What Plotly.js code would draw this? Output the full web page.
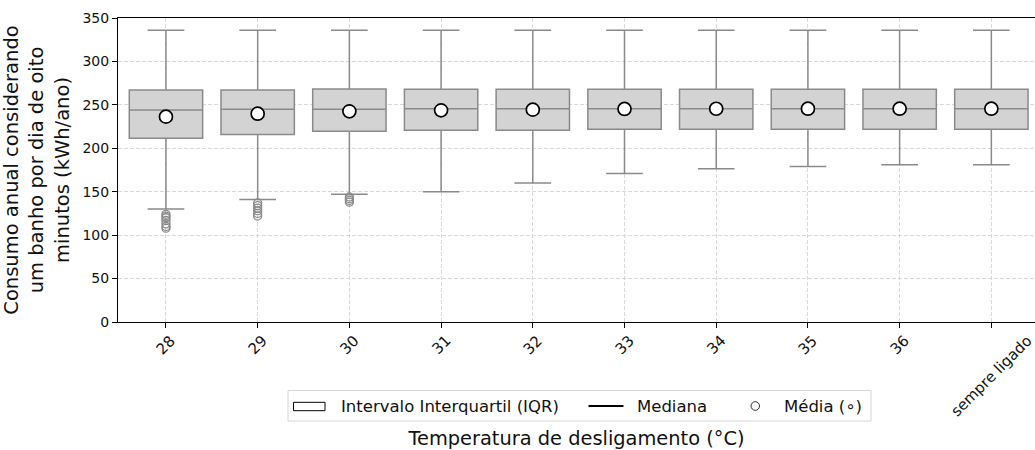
<!DOCTYPE html>
<html>
<head>
<meta charset="utf-8">
<script src="https://cdn.plot.ly/plotly-3.0.1.min.js"></script>
<style>html,body{margin:0;padding:0;background:#fff;}#chart{width:1035px;height:450px;}</style>
</head>
<body>
<div id="chart"></div>
<script>
// ---- data ----
const categories = ["28", "29", "30", "31", "32", "33", "34", "35", "36", "sempre ligado"];
const q1Values     = [211.5, 216.0, 219.5, 220.7, 220.7, 221.8, 221.8, 221.8, 221.8, 221.8];
const medianValues = [244.0, 244.8, 244.8, 245.6, 245.6, 245.6, 245.6, 245.6, 245.6, 245.6];
const q3Values     = [267.0, 267.0, 268.2, 268.0, 268.0, 268.0, 268.0, 268.0, 268.0, 268.0];
const lowerWhisker = [130.0, 141.0, 147.0, 150.0, 160.0, 171.0, 176.5, 179.0, 181.0, 181.0];
const upperWhisker = [336.0, 336.0, 336.0, 336.0, 336.0, 336.0, 336.0, 336.0, 336.0, 336.0];
const meanValues   = [236.4, 239.8, 242.5, 243.7, 244.5, 245.3, 245.5, 245.6, 245.6, 245.6];
const outlierCategories = ["28","28","28","28","28","28","28","29","29","29","29","29","29","30","30","30","30"];
const outlierValues     = [124, 122, 120, 117, 113, 110, 108, 137, 134, 131, 128, 125, 122, 144, 142, 140, 138];
const legendLabels = ["Intervalo Interquartil (IQR)", "Mediana", "Média (\u2218)"];
const xTitle = "Temperatura de desligamento (°C)";
const yTitle = "Consumo anual considerando<br>um banho por dia de oito<br>minutos (kWh/ano)";

const FONT = "DejaVu Sans, sans-serif";
const boxGray = "#8a8a8a";

const traces = [
  {
    type: "box",
    x: categories,
    q1: q1Values,
    median: medianValues,
    q3: q3Values,
    lowerfence: lowerWhisker,
    upperfence: upperWhisker,
    width: 0.8,
    whiskerwidth: 0.5,
    boxpoints: false,
    fillcolor: "#d3d3d3",
    line: {color: boxGray, width: 1.5},
    showlegend: false,
    hoverinfo: "skip"
  },
  {
    type: "scatter",
    mode: "markers",
    x: outlierCategories,
    y: outlierValues,
    marker: {symbol: "circle-open", size: 8, color: boxGray, line: {width: 1.3, color: boxGray}},
    showlegend: false,
    hoverinfo: "skip"
  },
  {
    type: "scatter",
    mode: "markers",
    x: categories,
    y: meanValues,
    marker: {symbol: "circle", size: 13, color: "#ffffff", line: {width: 1.7, color: "#000000"}},
    showlegend: false,
    hoverinfo: "skip"
  }
];

// plot-area geometry helpers for the hand-drawn legend (paper coords)
const L = 118, W = 917, T = 18, H = 304;
const px = v => (v - L) / W;
const py = v => (T + H - v) / H;

const annotations = categories.map((c, i) => ({
  x: i, xref: "x", y: py(329), yref: "paper",
  text: c, textangle: -45, showarrow: false,
  xanchor: "center", yanchor: "top",
  font: {family: FONT, size: 15, color: "#111"}
}));
const legFont = {family: FONT, size: 16.5, color: "#111"};
annotations.push(
  {x: px(339), y: py(406.5), xref: "paper", yref: "paper", text: legendLabels[0], showarrow: false, xanchor: "left", yanchor: "middle", font: legFont},
  {x: px(635), y: py(406.5), xref: "paper", yref: "paper", text: legendLabels[1], showarrow: false, xanchor: "left", yanchor: "middle", font: legFont},
  {x: px(782), y: py(406.5), xref: "paper", yref: "paper", text: legendLabels[2], showarrow: false, xanchor: "left", yanchor: "middle", font: legFont}
);

const shapes = [
  {type: "rect", xref: "paper", yref: "paper", x0: px(288), x1: px(871), y0: py(390.5), y1: py(421), line: {color: "#d6d6d6", width: 1}, fillcolor: "rgba(255,255,255,0.8)"},
  {type: "rect", xref: "paper", yref: "paper", x0: px(293.5), x1: px(325), y0: py(402.3), y1: py(410.7), line: {color: "#000", width: 1}, fillcolor: "#fff"},
  {type: "line", xref: "paper", yref: "paper", x0: px(588.5), x1: px(623.5), y0: py(406), y1: py(406), line: {color: "#000", width: 2}},
  {type: "circle", xref: "paper", yref: "paper", x0: px(751), x1: px(759.5), y0: py(401.7), y1: py(410.3), line: {color: "#333", width: 1}, fillcolor: "rgba(0,0,0,0)"}
];

const layout = {
  width: 1035, height: 450,
  margin: {l: 118, r: 0, t: 18, b: 128, pad: 0},
  paper_bgcolor: "#fff", plot_bgcolor: "#fff",
  font: {family: FONT, size: 14, color: "#111"},
  showlegend: false,
  xaxis: {
    type: "category", categoryarray: categories, categoryorder: "array",
    range: [-0.523, 9.476],
    showticklabels: false,
    ticks: "outside", ticklen: 5, tickcolor: "#000", tickwidth: 1,
    showline: true, linecolor: "#000", linewidth: 1, mirror: true,
    showgrid: true, gridcolor: "#d0d0d0", griddash: "4px,2px", gridwidth: 0.8,
    zeroline: false,
    title: {text: xTitle, font: {family: FONT, size: 19.4, color: "#111"}, standoff: 105}
  },
  yaxis: {
    range: [0, 350], dtick: 50, tick0: 0,
    ticks: "outside", ticklen: 5, tickcolor: "#000", tickwidth: 1,
    showline: true, linecolor: "#000", linewidth: 1, mirror: false,
    showgrid: true, gridcolor: "#d0d0d0", griddash: "4px,2px", gridwidth: 0.8,
    zeroline: false,
    tickfont: {family: FONT, size: 14, color: "#111"},
    title: {text: yTitle, font: {family: FONT, size: 19.5, color: "#111"}, standoff: 9}
  },
  annotations: annotations,
  shapes: shapes
};

Plotly.newPlot("chart", traces, layout, {staticPlot: true, displayModeBar: false});
</script>
</body>
</html>
